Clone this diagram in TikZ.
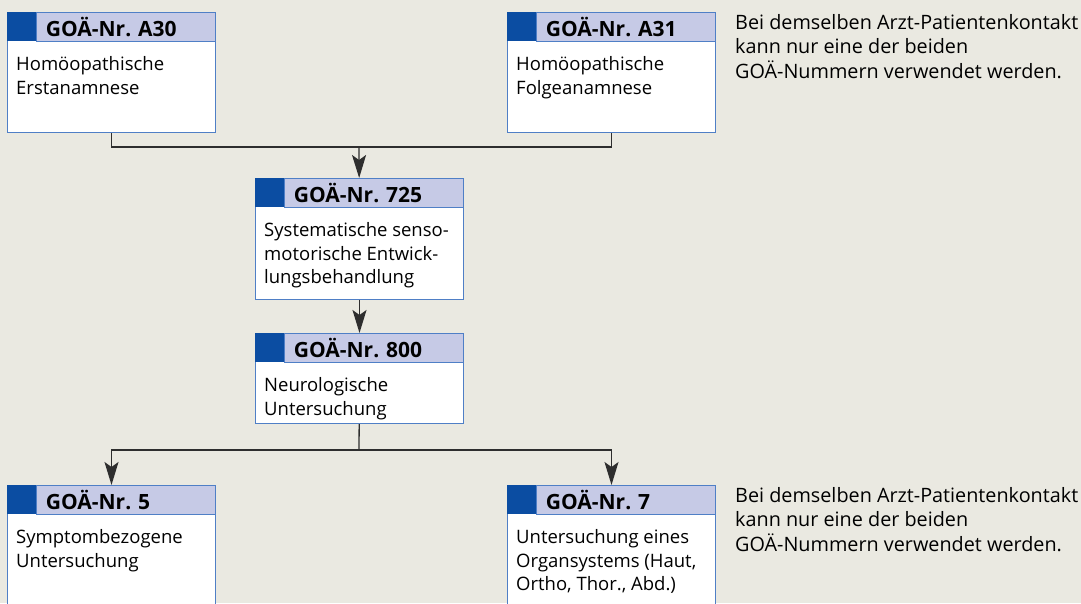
\documentclass[tikz,border=0pt]{standalone}
\usepackage{fontspec}
\setmainfont{Open Sans}
\usetikzlibrary{positioning,arrows.meta}

\definecolor{paper}{HTML}{EAE9E1}
\definecolor{headfill}{HTML}{C6CAE6}
\definecolor{tagblue}{HTML}{0B4DA2}
\definecolor{frame}{HTML}{4F7FC6}
\definecolor{wirecol}{HTML}{2E2E2E}

\tikzstyle{card}=[draw=frame,fill=white,line width=1pt,anchor=north west,minimum width=208pt,inner sep=0pt]
\tikzstyle{tag}=[fill=tagblue,anchor=north west,minimum width=29pt,minimum height=29pt,inner sep=0pt]
\tikzstyle{head}=[draw=frame,fill=headfill,line width=1pt,minimum width=179pt,minimum height=29pt,inner sep=0pt,inner xsep=9pt,text width=161pt,align=left,font=\bfseries\fontsize{21}{22}\selectfont]
\tikzstyle{cardtext}=[anchor=north west,align=left,inner xsep=9pt,inner ysep=15pt,font=\fontsize{18.5}{23.5}\selectfont]
\tikzstyle{note}=[anchor=north west,align=left,inner sep=0pt,font=\fontsize{19.8}{24.5}\selectfont]
\tikzstyle{wire}=[draw=wirecol,line width=1.3pt]
\tikzstyle{arrow}=[wire,-{Stealth[length=23pt,width=14pt,inset=5pt]}]

\begin{document}
\frenchspacing
\begin{tikzpicture}[x=1pt,y=-1pt]
\useasboundingbox (0,0) rectangle (1081,603);
\clip (0,0) rectangle (1081,603);
\fill[paper] (0,0) rectangle (1081,603);
% 1st row
\node[card,minimum height=120pt] (a30) at (7,12) {};
\node[tag] (a30t) at (a30.north west) {};
\node[head,right=0pt of a30t] (a30h) {GOÄ-Nr. A30};
\node[cardtext] (a30x) at (a30t.south west) {Homöopathische\\Erstanamnese};
\node[card,minimum height=120pt] (a31) at (507,12) {};
\node[tag] (a31t) at (a31.north west) {};
\node[head,right=0pt of a31t] (a31h) {GOÄ-Nr. A31};
\node[cardtext] (a31x) at (a31t.south west) {Homöopathische\\Folgeanamnese};
\node[note] (n1) at (735,14) {Bei demselben Arzt-Patientenkontakt\\kann nur eine der beiden\\GOÄ-Nummern verwendet werden.};
% 2nd row
\node[card,minimum height=121pt] (b725) at (255,178) {};
\node[tag] (b725t) at (b725.north west) {};
\node[head,right=0pt of b725t] (b725h) {GOÄ-Nr. 725};
\node[cardtext] (b725x) at (b725t.south west) {Systematische senso-\\motorische Entwick-\\lungsbehandlung};
% 3rd row
\node[card,minimum height=90pt] (b800) at (255,333) {};
\node[tag] (b800t) at (b800.north west) {};
\node[head,right=0pt of b800t] (b800h) {GOÄ-Nr. 800};
\node[cardtext] (b800x) at (b800t.south west) {Neurologische\\Untersuchung};
% 4th row
\node[card,minimum height=140pt] (g5) at (7,485) {};
\node[tag] (g5t) at (g5.north west) {};
\node[head,right=0pt of g5t] (g5h) {GOÄ-Nr. 5};
\node[cardtext] (g5x) at (g5t.south west) {Symptombezogene\\Untersuchung};
\node[card,minimum height=140pt] (g7) at (507,485) {};
\node[tag] (g7t) at (g7.north west) {};
\node[head,right=0pt of g7t] (g7h) {GOÄ-Nr. 7};
\node[cardtext] (g7x) at (g7t.south west) {Untersuchung eines\\Organsystems (Haut,\\Ortho, Thor., Abd.)};
\node[note] (n2) at (735,487) {Bei demselben Arzt-Patientenkontakt\\kann nur eine der beiden\\GOÄ-Nummern verwendet werden.};
% connectors
\coordinate (top) at (359,147);
\coordinate (fork) at (359,450);
\draw[wire] (a30) |- (top) -| (a31);
\draw[arrow] (top) -- (b725);
\draw[arrow] (b725) -- (b800);
\draw[wire] (b800) -- (fork);
\draw[arrow] (fork) -| (g5);
\draw[arrow] (fork) -| (g7);
\end{tikzpicture}
\end{document}
